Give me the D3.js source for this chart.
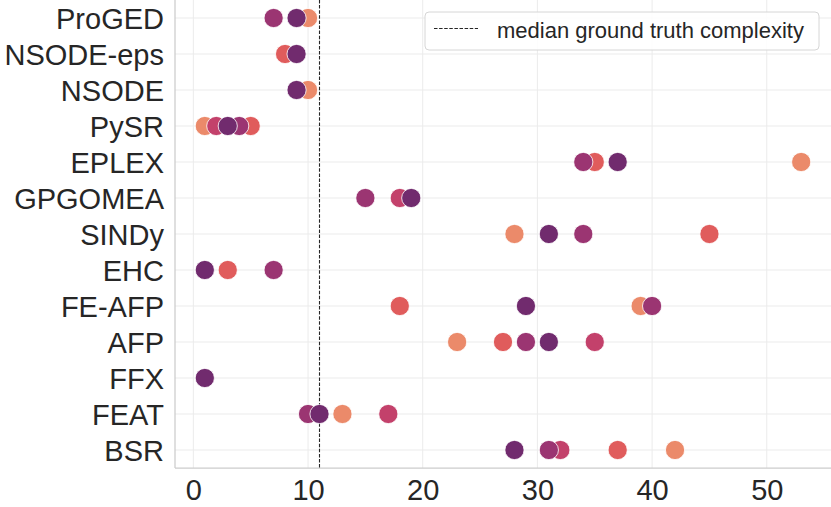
<!DOCTYPE html>
<html lang="en">
<head>
    <meta charset="UTF-8">
    <title>Complexity by method</title>
    <script src="https://d3js.org/d3.v7.min.js"></script>
    <style>
        body {
            margin: 0;
            background-color: #ffffff;
            font-family: "Liberation Sans", Arial, sans-serif;
        }
        svg {
            display: block;
        }
    </style>
</head>
<body>

<svg width="831" height="507"></svg>

<script>
    // methods on the y axis, top to bottom
    const methods = ["ProGED", "NSODE-eps", "NSODE", "PySR", "EPLEX", "GPGOMEA", "SINDy",
        "EHC", "FE-AFP", "AFP", "FFX", "FEAT", "BSR"];

    // one value per method for each hue level (null = no point)
    const level1 = [10, null, 10, 1, 53, null, 28, null, 39, 23, null, 13, 42];
    const level2 = [null, 8, null, 5, 35, null, 45, 3, 18, 27, null, null, 37];
    const level3 = [null, null, null, 2, null, 18, null, null, null, 35, null, 17, 32];
    const level4 = [7, null, null, 4, 34, 15, 34, 7, 40, 29, null, 10, 31];
    const level5 = [9, 9, 9, 3, 37, 19, 31, 1, 29, 31, 1, 11, 28];

    const levelColors = ["#eb8a6a", "#e05c5c", "#c3416b", "#9b3572", "#712b6e"];
    const xTicks = [0, 10, 20, 30, 40, 50];
    const medianComplexity = 11;
    const legendLabel = "median ground truth complexity";

    const svgWidth = 831;
    const svgHeight = 507;
    const margin = {top: 0, right: 0, bottom: 39, left: 175};
    const plotBottom = svgHeight - margin.bottom;

    const svg = d3.select("svg");

    const xScale = d3.scaleLinear()
        .domain([-1.6, 55.6])
        .range([margin.left, svgWidth - margin.right]);

    const yScale = d3.scalePoint()
        .domain(methods)
        .range([margin.top, plotBottom])
        .padding(0.5);

    // grid
    svg.append("g")
        .selectAll("line")
        .data(xTicks)
        .enter()
        .append("line")
        .attr("x1", d => xScale(d))
        .attr("x2", d => xScale(d))
        .attr("y1", margin.top)
        .attr("y2", plotBottom)
        .attr("stroke", "#ebebeb")
        .attr("stroke-width", 1);

    svg.append("g")
        .selectAll("line")
        .data(methods)
        .enter()
        .append("line")
        .attr("x1", margin.left)
        .attr("x2", svgWidth)
        .attr("y1", d => yScale(d))
        .attr("y2", d => yScale(d))
        .attr("stroke", "#ebebeb")
        .attr("stroke-width", 1);

    // spines (left and bottom)
    svg.append("line")
        .attr("x1", margin.left).attr("x2", margin.left)
        .attr("y1", margin.top).attr("y2", plotBottom)
        .attr("stroke", "#cccccc").attr("stroke-width", 1.25);
    svg.append("line")
        .attr("x1", margin.left).attr("x2", svgWidth)
        .attr("y1", plotBottom).attr("y2", plotBottom)
        .attr("stroke", "#cccccc").attr("stroke-width", 1.25);

    // axes via d3, then restyle
    const xAxis = svg.append("g")
        .attr("transform", `translate(0, ${plotBottom})`)
        .call(d3.axisBottom(xScale).tickValues(xTicks).tickSize(0).tickPadding(10));
    xAxis.select(".domain").remove();
    xAxis.selectAll("text")
        .attr("font-family", "Liberation Sans, Arial, sans-serif")
        .attr("font-size", "29px")
        .attr("fill", "#262626")
        .attr("dy", null)
        .attr("y", 32);

    const yAxis = svg.append("g")
        .attr("transform", `translate(${margin.left}, 0)`)
        .call(d3.axisLeft(yScale).tickSize(0).tickPadding(11));
    yAxis.select(".domain").remove();
    yAxis.selectAll("text")
        .attr("font-family", "Liberation Sans, Arial, sans-serif")
        .attr("font-size", "29px")
        .attr("fill", "#262626")
        .attr("dy", "0.36em");

    // median line
    svg.append("line")
        .attr("x1", xScale(medianComplexity))
        .attr("x2", xScale(medianComplexity))
        .attr("y1", margin.top)
        .attr("y2", plotBottom)
        .attr("stroke", "#262626")
        .attr("stroke-width", 1.1)
        .attr("stroke-dasharray", "3.5,1.6");

    // points, lightest level drawn first
    const levels = [level1, level2, level3, level4, level5];
    const points = [];
    levels.forEach((vals, li) => {
        vals.forEach((v, i) => {
            if (v !== null) points.push({method: methods[i], value: v, level: li});
        });
    });

    svg.append("g")
        .selectAll("circle")
        .data(points)
        .enter()
        .append("circle")
        .attr("cx", d => xScale(d.value))
        .attr("cy", d => yScale(d.method))
        .attr("r", 9.6)
        .attr("fill", d => levelColors[d.level])
        .attr("stroke", "#ffffff")
        .attr("stroke-width", 0.8);

    // legend
    const legend = svg.append("g").attr("transform", "translate(425, 12)");
    legend.append("rect")
        .attr("width", 394)
        .attr("height", 38)
        .attr("rx", 4)
        .attr("fill", "#ffffff")
        .attr("fill-opacity", 0.85)
        .attr("stroke", "#d6d6d6")
        .attr("stroke-width", 1);
    legend.append("line")
        .attr("x1", 9).attr("x2", 53)
        .attr("y1", 16.5).attr("y2", 16.5)
        .attr("stroke", "#262626")
        .attr("stroke-width", 1.1)
        .attr("stroke-dasharray", "3.5,1.6");
    legend.append("text")
        .attr("x", 72)
        .attr("y", 26)
        .attr("font-family", "Liberation Sans, Arial, sans-serif")
        .attr("font-size", "22px")
        .attr("fill", "#262626")
        .text(legendLabel);
</script>

</body>
</html>
